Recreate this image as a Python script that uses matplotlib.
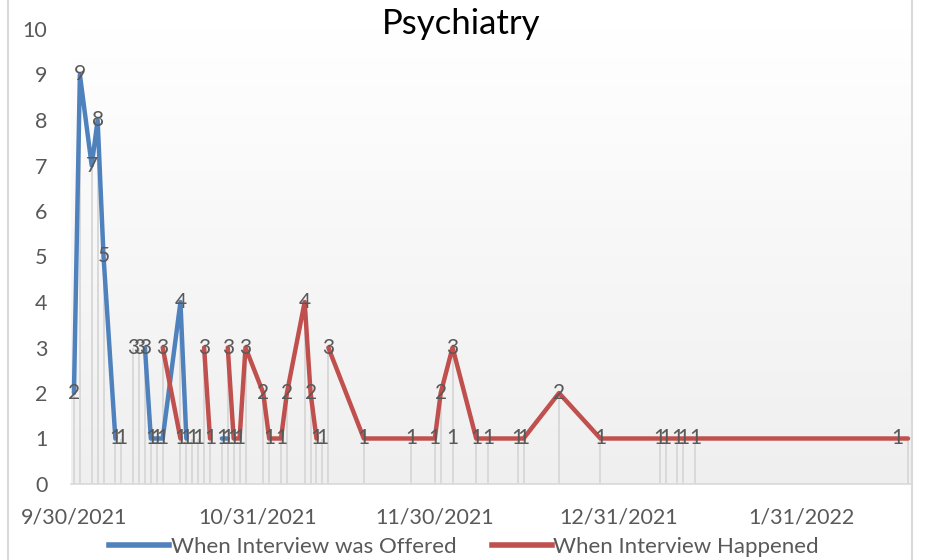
import numpy as np
import matplotlib
matplotlib.use('Agg')
import matplotlib.pyplot as plt
import matplotlib.dates as mdates
from matplotlib.colors import LinearSegmentedColormap
from matplotlib.lines import Line2D
from datetime import date

plt.rcParams['font.family'] = ['Lato', 'DejaVu Sans']

nan = np.nan

# datas das entrevistas
datas = ['2021-09-30', '2021-10-01', '2021-10-03', '2021-10-04', '2021-10-05',
         '2021-10-07', '2021-10-08', '2021-10-10', '2021-10-11', '2021-10-12',
         '2021-10-13', '2021-10-14', '2021-10-15', '2021-10-18', '2021-10-19',
         '2021-10-20', '2021-10-21', '2021-10-22', '2021-10-23', '2021-10-25',
         '2021-10-26', '2021-10-27', '2021-10-28', '2021-10-29', '2021-11-01',
         '2021-11-02', '2021-11-04', '2021-11-05', '2021-11-08', '2021-11-09',
         '2021-11-10', '2021-11-11', '2021-11-12', '2021-11-18', '2021-11-26',
         '2021-11-30', '2021-12-01', '2021-12-03', '2021-12-07', '2021-12-09',
         '2021-12-14', '2021-12-15', '2021-12-21', '2021-12-28', '2022-01-07',
         '2022-01-08', '2022-01-10', '2022-01-11', '2022-01-13', '2022-02-18']

oferecida = [2, 9, 7, 8, 5,
             1, nan, 3, nan, 3,
             1, 1, 1, 4, 1,
             nan, 1, nan, nan, 1,
             1, nan, nan, nan, nan,
             nan, nan, nan, nan, nan,
             nan, 1, nan, nan, nan,
             nan, nan, 1, nan, nan,
             nan, nan, nan, nan, nan,
             nan, nan, nan, nan, nan]

realizada = [nan, nan, nan, nan, nan,
             nan, 1, nan, 3, nan,
             nan, nan, 3, 1, nan,
             1, nan, 3, 1, nan,
             3, 1, 1, 3, 2,
             1, 1, 2, 4, 2,
             1, nan, 3, 1, 1,
             1, 2, 3, 1, 1,
             1, 1, 2, 1, 1,
             1, 1, 1, 1, 1]

ticks_x = ['2021-09-30', '2021-10-31', '2021-11-30', '2021-12-31', '2022-01-31']
rotulos_x = ['9/30/2021', '10/31/2021', '11/30/2021', '12/31/2021', '1/31/2022']

x = np.array([mdates.date2num(date.fromisoformat(d)) for d in datas])
y_of = np.array(oferecida, dtype=float)
y_re = np.array(realizada, dtype=float)

cor_azul = '#4f81bd'
cor_verm = '#c0504d'
cor_texto = '#595959'

fig = plt.figure(figsize=(9.28, 5.6), dpi=100)
ax = fig.add_axes([71 / 928, 1 - 484 / 560, 840 / 928, 455 / 560])

# fundo em degrade
cmap = LinearSegmentedColormap.from_list('fundo', ['#ffffff', '#efefef'])
ax.imshow(np.linspace(0, 1, 256).reshape(-1, 1), cmap=cmap, aspect='auto',
          extent=[0, 1, 0, 1], transform=ax.transAxes, zorder=0)

# linhas de queda
topo = np.fmax(y_of, y_re)
ax.vlines(x, 0, topo, color='#d9d9d9', lw=1.4, zorder=1)

ax.plot(x, y_of, color=cor_azul, lw=3.2, zorder=3, solid_capstyle='round')
ax.plot(x, y_re, color=cor_verm, lw=3.2, zorder=3, solid_capstyle='round')

# rotulos dos pontos
for serie in [y_of, y_re]:
    for i, (xi, yi) in enumerate(zip(x, serie)):
        if np.isnan(yi):
            continue
        dx = -8 if i == len(x) - 1 else 0
        ax.annotate(f'{int(yi)}', (xi, yi), xytext=(dx, 0), textcoords='offset points',
                    ha='center', va='center', fontsize=15, color=cor_texto, zorder=4)

ax.set_xlim(x[0] - 0.5, x[-1] + 0.5)
ax.set_ylim(0, 10)
ax.set_yticks(range(0, 11))
ax.set_xticks([mdates.date2num(date.fromisoformat(d)) for d in ticks_x])
ax.set_xticklabels(rotulos_x)
ax.tick_params(axis='both', length=0, labelsize=15.5, labelcolor=cor_texto)
ax.tick_params(axis='y', pad=17)
ax.tick_params(axis='x', pad=17)

for lado in ['left', 'right', 'top']:
    ax.spines[lado].set_visible(False)
ax.spines['bottom'].set_color('#d9d9d9')
ax.spines['bottom'].set_linewidth(1.2)

fig.text(0.497, 0.958, 'Psychiatry', ha='center', va='center', fontsize=25, color='black')

handles = [Line2D([], [], color=cor_azul, lw=4),
           Line2D([], [], color=cor_verm, lw=4)]
fig.legend(handles, ['When Interview was Offered', 'When Interview Happened'],
           loc='lower center', bbox_to_anchor=(0.5, -0.03), ncol=2, frameon=False,
           fontsize=16, labelcolor=cor_texto, handlelength=2.7, handletextpad=0.05,
           columnspacing=1.6)

# bordas do grafico
fig.add_artist(Line2D([8 / 928, 8 / 928], [0, 1], color='#d9d9d9', lw=1.5))
fig.add_artist(Line2D([912 / 928, 912 / 928], [0, 1], color='#d9d9d9', lw=1.5))

fig.savefig('out.png', dpi=100)
